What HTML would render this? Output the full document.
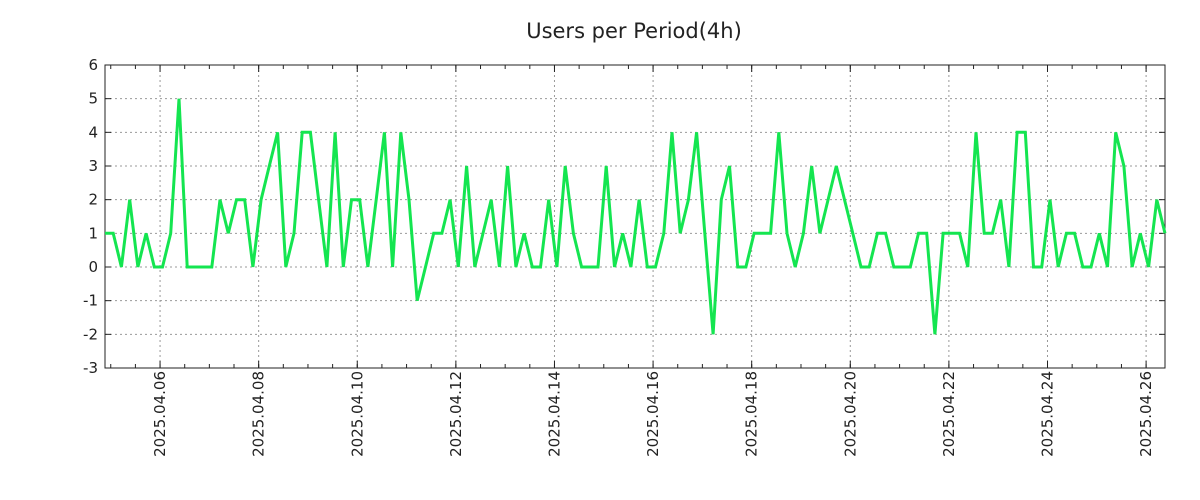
<!DOCTYPE html>
<html><head><meta charset="utf-8"><style>
html,body{margin:0;padding:0;background:#fff;}
svg{display:block;font-family:"DejaVu Sans","Liberation Sans",sans-serif;}
</style></head><body>
<svg id="chart" width="1200" height="500" xmlns="http://www.w3.org/2000/svg">
<rect width="1200" height="500" fill="#fff"/>
<text x="634" y="38" text-anchor="middle" font-size="21" fill="#222">Users per Period(4h)</text>
<g id="grid"></g><g id="axes"></g><g id="series"></g>
</svg>
<script>
const values = [1,1,0,2,0,1,0,0,1,5, 0,0,0,0,2,1,2,2,0,2, 3,4,0,1,4,4,2,0,4,0, 2,2,0,2,4,0,4,2,-1,0, 1,1,2,0,3,0,1,2,0,3, 0,1,0,0,2,0,3,1,0,0, 0,3,0,1,0,2,0,0,1,4, 1,2,4,1,-2,2,3,0,0,1, 1,1,4,1,0,1,3,1,2,3, 2,1,0,0,1,1,0,0,0,1, 1,-2,1,1,1,0,4,1,1,2, 0,4,4,0,0,2,0,1,1,0, 0,1,0,4,3,0,1,0,2,1];
const startHour = 21.2; // hours after 2025.04.04 00:00
const stepHours = 4;
const tickDays = [6,8,10,12,14,16,18,20,22,24,26];
const tickLabels = ["2025.04.06","2025.04.08","2025.04.10","2025.04.12","2025.04.14","2025.04.16","2025.04.18","2025.04.20","2025.04.22","2025.04.24","2025.04.26"];
const yTicks = [-3,-2,-1,0,1,2,3,4,5,6];

const L=105,R=1165,T=65,B=368;
const endHour = startHour + stepHours*(values.length-1);
const xs = h => L + (h-startHour)/(endHour-startHour)*(R-L);
const ys = v => B - (v+3)/9*(B-T);
const NS="http://www.w3.org/2000/svg";
function mk(tag,parent,attrs){const e=document.createElementNS(NS,tag);for(const k in attrs)e.setAttribute(k,attrs[k]);parent.appendChild(e);return e;}
const grid=document.getElementById('grid'),axes=document.getElementById('axes'),series=document.getElementById('series');

yTicks.forEach(v=>{
  const y=ys(v);
  if(v>-3&&v<6){const g=mk('line',grid,{x1:L,x2:R,y1:y,y2:y,stroke:'#999','stroke-dasharray':'2,3','stroke-width':1});
  
  }
  mk('line',axes,{x1:L,x2:L+6,y1:y,y2:y,stroke:'#222'});
  mk('line',axes,{x1:R-6,x2:R,y1:y,y2:y,stroke:'#222'});
  const t=mk('text',axes,{x:98,y:y+5,'text-anchor':'end','font-size':15,fill:'#222'});
  t.textContent=v;
  
  
});
for(let h=Math.ceil(startHour/12)*12;h<=endHour;h+=12){
  const x=xs(h);
  mk('line',axes,{x1:x,x2:x,y1:B,y2:B-4,stroke:'#222'});
  mk('line',axes,{x1:x,x2:x,y1:T,y2:T+4,stroke:'#222'});
}
tickDays.forEach((d,i)=>{
  const x=xs((d-4)*24);
  const g=mk('line',grid,{x1:x,x2:x,y1:T,y2:B,stroke:'#999','stroke-dasharray':'2,3','stroke-width':1});
  
  
  mk('line',axes,{x1:x,x2:x,y1:B,y2:B-7,stroke:'#222'});
  mk('line',axes,{x1:x,x2:x,y1:T,y2:T+7,stroke:'#222'});
  const t=mk('text',axes,{x:0,y:0,'text-anchor':'end','font-size':15,fill:'#222',transform:`translate(${x+5},371) rotate(-90)`});
  t.textContent=tickLabels[i];
  
  
});
const frame=mk('rect',axes,{x:L,y:T,width:R-L,height:B-T,fill:'none',stroke:'#222','stroke-width':1});


const pts=values.map((v,i)=>xs(startHour+i*stepHours).toFixed(1)+','+ys(v).toFixed(1)).join(' ');
const line=mk('polyline',series,{points:pts,fill:'none',stroke:'#14e550','stroke-width':3,'stroke-linejoin':'miter'});


</script>
</body></html>
